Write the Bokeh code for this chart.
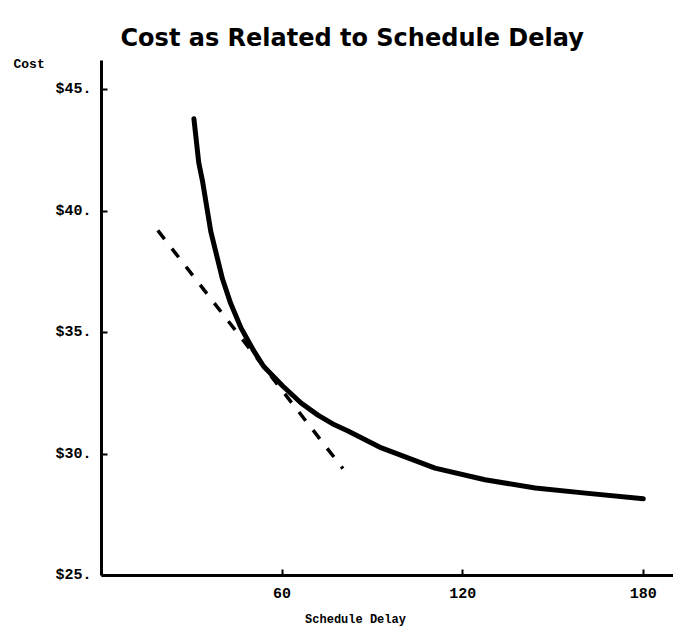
from bokeh.plotting import figure
from bokeh.models import Label, FixedTicker, Range1d, LinearAxis
from bokeh.embed import file_html
from bokeh.resources import INLINE

# Data
delay = [30.7, 32.3, 33.6, 36.3, 40.2, 42.9, 46.3, 50.8, 53.9, 60.2, 66.3, 71.9, 77.4, 81.9,
         93.0, 110.8, 127.4, 144.1, 160.8, 180.0]
cost = [43.8, 42.0, 41.2, 39.16, 37.2, 36.2, 35.2, 34.2, 33.6, 32.8, 32.1, 31.6, 31.2, 30.95,
        30.25, 29.42, 28.94, 28.6, 28.39, 28.16]

tangent_delay = [18.7, 80.2]
tangent_cost = [39.2, 29.4]

x_ticks = [60, 120, 180]
y_ticks = [25, 30, 35, 40, 45]
y_labels = {25: "$25.", 30: "$30.", 35: "$35.", 40: "$40.", 45: "$45."}

W, H = 673, 631
X0_PX, Y0_PX = 101, 575      # pixel position of (0, $25)
PX_X, PX_Y = 3.01, 24.3      # pixels per unit


def dx(px):
    return (px - X0_PX) / PX_X


def dy(py):
    return 25 + (Y0_PX - py) / PX_Y


p = figure(width=W, height=H, output_backend="svg", toolbar_location=None,
           x_range=Range1d(dx(0), dx(W)), y_range=Range1d(dy(H), dy(0)),
           x_axis_location=None, y_axis_location=None,
           min_border_left=0, min_border_right=0, min_border_top=0, min_border_bottom=0)
p.background_fill_color = "white"
p.border_fill_color = "white"
p.outline_line_color = None
p.xgrid.grid_line_color = None
p.ygrid.grid_line_color = None

xaxis = LinearAxis(fixed_location=25, bounds=(0, dx(W)), ticker=FixedTicker(ticks=x_ticks))
yaxis = LinearAxis(fixed_location=0, bounds=(25, dy(60)), ticker=FixedTicker(ticks=y_ticks))
yaxis.major_label_overrides = {k: v for k, v in y_labels.items()}

for ax in (xaxis, yaxis):
    ax.axis_line_width = 3
    ax.axis_line_color = "black"
    ax.major_tick_in = 6
    ax.major_tick_out = 0
    ax.major_tick_line_width = 2
    ax.minor_tick_line_color = None
    ax.major_label_text_font = "Liberation Mono"
    ax.major_label_text_font_style = "bold"
    ax.major_label_text_font_size = "15px"
    ax.major_label_text_color = "black"
xaxis.major_label_standoff = 12
yaxis.major_label_standoff = 10
p.add_layout(xaxis, "below")
p.add_layout(yaxis, "left")

p.line(delay, cost, line_color="black", line_width=5, line_cap="round", line_join="round")
p.line(tangent_delay, tangent_cost, line_color="black", line_width=3.5, line_dash="11 12")

p.add_layout(Label(x=dx(120), y=dy(37), text="Cost as Related to Schedule Delay",
                   text_align="left", text_baseline="alphabetic",
                   text_font="DejaVu Sans", text_font_style="bold", text_font_size="24px",
                   text_color="black"))
p.add_layout(Label(x=dx(13), y=dy(64), text="Cost",
                   text_align="left", text_baseline="alphabetic",
                   text_font="Liberation Mono", text_font_style="bold", text_font_size="13px",
                   text_color="black"))
p.add_layout(Label(x=dx(355), y=dy(619), text="Schedule Delay",
                   text_align="center", text_baseline="middle",
                   text_font="Liberation Mono", text_font_style="bold", text_font_size="12px",
                   text_color="black"))

open("out.html", "w").write(file_html(p, INLINE))
